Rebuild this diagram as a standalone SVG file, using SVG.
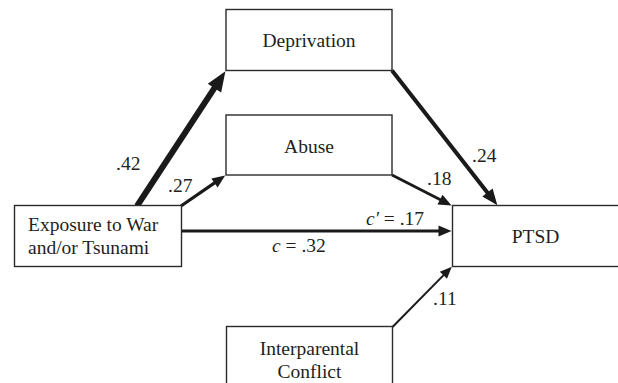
<svg xmlns="http://www.w3.org/2000/svg" width="618" height="383" viewBox="0 0 618 383">
<style>
.box{fill:#fff;stroke:#2b2b2b;stroke-width:1.4}
.lbl{font-family:"Liberation Serif","Times New Roman",serif;font-size:19.5px;fill:#231f20}
.mid{text-anchor:middle}
.con{stroke:#1a1a1a;fill:none;stroke-linecap:butt}
</style>
<defs>
<marker id="ahBig" markerUnits="userSpaceOnUse" markerWidth="30" markerHeight="30" refX="1" refY="0" orient="auto" overflow="visible"><path d="M0,-8 L20,0 L0,8 z" fill="#1a1a1a"/></marker>
<marker id="ahMed" markerUnits="userSpaceOnUse" markerWidth="30" markerHeight="30" refX="1" refY="0" orient="auto" overflow="visible"><path d="M0,-6.5 L16,0 L0,6.5 z" fill="#1a1a1a"/></marker>
<marker id="ahSm" markerUnits="userSpaceOnUse" markerWidth="30" markerHeight="30" refX="1" refY="0" orient="auto" overflow="visible"><path d="M0,-5.5 L13,0 L0,5.5 z" fill="#1a1a1a"/></marker>
<marker id="ahXs" markerUnits="userSpaceOnUse" markerWidth="30" markerHeight="30" refX="1" refY="0" orient="auto" overflow="visible"><path d="M0,-5 L12,0 L0,5 z" fill="#1a1a1a"/></marker>
</defs>
<g id="connectors">
<line class="con" x1="137" y1="206" x2="215" y2="87.2" stroke-width="6" marker-end="url(#ahBig)"/>
<line class="con" x1="181" y1="206" x2="215.3" y2="182.4" stroke-width="3.2" marker-end="url(#ahSm)"/>
<line class="con" x1="392" y1="70.5" x2="488.1" y2="193.4" stroke-width="4" marker-end="url(#ahMed)"/>
<line class="con" x1="392" y1="175" x2="440.9" y2="200.1" stroke-width="2.8" marker-end="url(#ahSm)"/>
<line class="con" x1="181.5" y1="231" x2="439.5" y2="231" stroke-width="3" marker-end="url(#ahSm)"/>
<line class="con" x1="392.5" y1="327" x2="444.1" y2="274.6" stroke-width="2" marker-end="url(#ahXs)"/>
<text class="lbl" x="116" y="170">.42</text>
<text class="lbl" x="168" y="192">.27</text>
<text class="lbl" x="472" y="162">.24</text>
<text class="lbl" x="427" y="185">.18</text>
<text class="lbl" x="366" y="225"><tspan font-style="italic">c′</tspan> = .17</text>
<text class="lbl" x="272" y="251.5"><tspan font-style="italic">c</tspan> = .32</text>
<text class="lbl" x="433" y="305">.11</text>
</g>
<g id="deprivation">
<rect class="box" x="226" y="9.5" width="166" height="61"/>
<text class="lbl mid" x="309" y="46.5">Deprivation</text>
</g>
<g id="abuse">
<rect class="box" x="226" y="115" width="166" height="60"/>
<text class="lbl mid" x="309" y="153">Abuse</text>
</g>
<g id="exposure">
<rect class="box" x="14.5" y="205.5" width="167" height="61"/>
<text class="lbl" x="28" y="230.5">Exposure to War</text>
<text class="lbl" x="28" y="254">and/or Tsunami</text>
</g>
<g id="ptsd">
<rect class="box" x="452.5" y="205.5" width="175" height="61"/>
<text class="lbl mid" x="535.5" y="243">PTSD</text>
</g>
<g id="interparental">
<rect class="box" x="226.5" y="326.5" width="166" height="70"/>
<text class="lbl mid" x="309.5" y="355">Interparental</text>
<text class="lbl mid" x="309.5" y="378">Conflict</text>
</g>
</svg>
